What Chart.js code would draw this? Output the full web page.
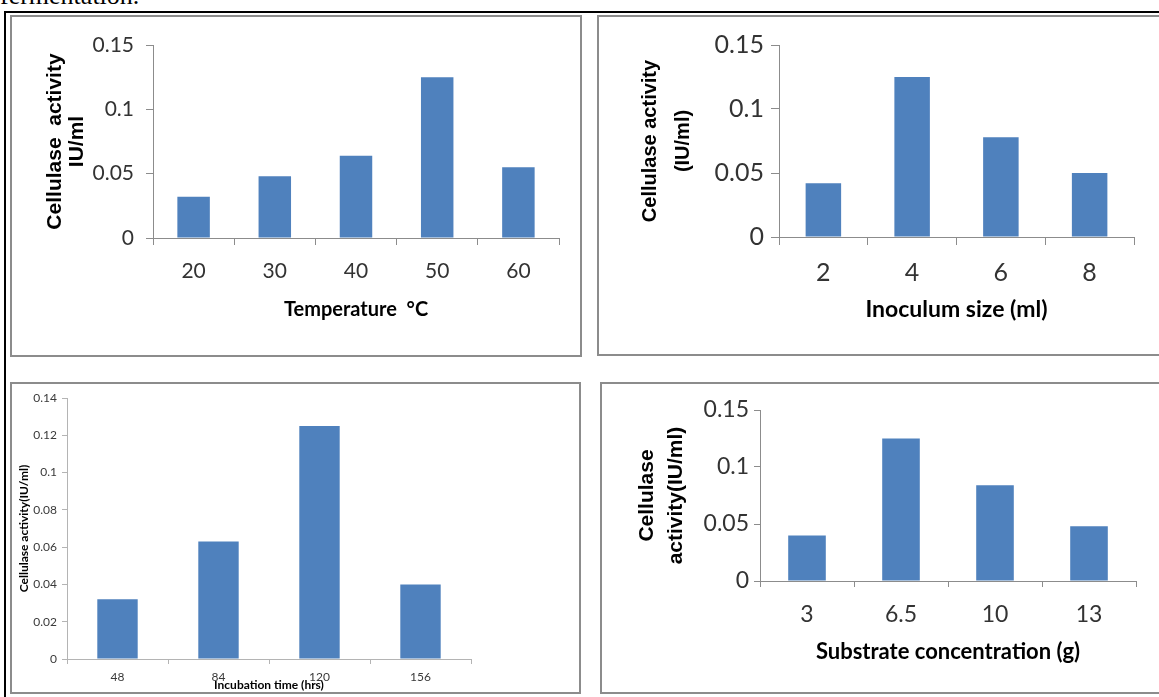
<!DOCTYPE html>
<html>
<head>
<meta charset="utf-8">
<title>Cellulase activity</title>
<script src="https://cdn.jsdelivr.net/npm/chart.js@4.4.1/dist/chart.umd.min.js"></script>
<style>
  html, body { margin: 0; padding: 0; background: #fff; }
  body { width: 1159px; height: 697px; overflow: hidden; position: relative; }
  .caption { position: absolute; left: 0; top: -17px; font: 26px/26px 'Liberation Serif', serif; color: #000; white-space: nowrap; }
  .frame { position: absolute; left: 4px; top: 11px; width: 1300px; height: 800px; border-left: 2px solid #000; border-top: 2px solid #000; }
  .panel { position: absolute; box-sizing: border-box; border: 2px solid #8c8c8c; background: #fff; }
  .panel canvas { position: absolute; left: 0; top: 0; }
</style>
</head>
<body>
<div class="caption">fermentation.</div>
<div class="frame"></div>
<div class="panel" style="left:10px;top:15px;width:572px;height:342px;"><canvas id="temp-chart" width="568" height="338"></canvas></div>
<div class="panel" style="left:597px;top:15px;width:620px;height:341px;"><canvas id="inoc-chart" width="560" height="337"></canvas></div>
<div class="panel" style="left:10px;top:382px;width:571px;height:312px;"><canvas id="incub-chart" width="567" height="308"></canvas></div>
<div class="panel" style="left:600px;top:382px;width:620px;height:312px;"><canvas id="subs-chart" width="557" height="308"></canvas></div>
<script>
// values
const tempLabels = ['20', '30', '40', '50', '60'];
const tempActivity = [0.032, 0.048, 0.064, 0.125, 0.055];
const tempTicks = [0, 0.05, 0.1, 0.15];

const inocLabels = ['2', '4', '6', '8'];
const inocActivity = [0.042, 0.125, 0.078, 0.05];
const inocTicks = [0, 0.05, 0.1, 0.15];

const incubLabels = ['48', '84', '120', '156'];
const incubActivity = [0.032, 0.063, 0.125, 0.04];
const incubTicks = [0, 0.02, 0.04, 0.06, 0.08, 0.1, 0.12, 0.14];

const subsLabels = ['3', '6.5', '10', '13'];
const subsActivity = [0.04, 0.125, 0.084, 0.048];
const subsTicks = [0, 0.05, 0.1, 0.15];

const BAR_BLUE = '#4f81bd';
const SANS = "Lato, 'Open Sans', sans-serif";
const ARIAL = "'Liberation Sans', Arial, sans-serif";

const fmtTick = (v) => String(Number(Number(v).toFixed(4)));

const makeBarChart = (canvas, p) => new Chart(canvas, {
  type: 'bar',
  data: {
    labels: p.labels,
    datasets: [{
      data: p.values,
      backgroundColor: BAR_BLUE,
      borderWidth: 0,
      categoryPercentage: 1,
      barPercentage: 0.4,
    }],
  },
  options: {
    responsive: false,
    animation: false,
    devicePixelRatio: 1,
    layout: { padding: p.padding },
    plugins: { legend: { display: false }, tooltip: { enabled: false } },
    scales: {
      x: {
        afterFit: (s) => { s.height = p.xHeight; },
        grid: { drawOnChartArea: false, tickLength: p.tick, color: p.axisColor, offset: true },
        border: { color: p.axisColor, width: 1 },
        ticks: { font: p.xTickFont, color: p.tickColor, padding: p.xTickPad, maxRotation: 0 },
        title: { display: true, text: p.xTitle, font: p.xTitleFont, color: '#000', padding: { top: 0, bottom: p.xTitlePad } },
      },
      y: {
        min: 0,
        max: p.yTicks[p.yTicks.length - 1],
        afterFit: (s) => { s.width = p.yWidth; },
        afterBuildTicks: (s) => { s.ticks = p.yTicks.map((v) => ({ value: v })); },
        grid: { drawOnChartArea: false, tickLength: p.tick, color: p.axisColor },
        border: { color: p.axisColor, width: 1 },
        ticks: { font: p.yTickFont, color: p.tickColor, padding: p.yTickPad, callback: fmtTick },
        title: { display: true, text: p.yTitle, font: p.yTitleFont, color: '#000', padding: { top: p.yTitlePad, bottom: 0 } },
      },
    },
  },
});

makeBarChart(document.getElementById('temp-chart'), {
  labels: tempLabels, values: tempActivity, yTicks: tempTicks,
  padding: { top: 28, right: 21, left: 0, bottom: 0 },
  yWidth: 141, xHeight: 117, tick: 7, axisColor: '#8c8c8c', tickColor: '#333',
  yTickFont: { family: SANS, size: 21 }, yTickPad: 12,
  xTickFont: { family: SANS, size: 21 }, xTickPad: 14,
  yTitle: ['Cellulase  activity', 'IU/ml'], yTitleFont: { family: ARIAL, size: 21, weight: 'bold', lineHeight: '22px' }, yTitlePad: 32,
  xTitle: 'Temperature  °C', xTitleFont: { family: SANS, size: 20, weight: 'bold', lineHeight: '24px' }, xTitlePad: 33,
});

makeBarChart(document.getElementById('inoc-chart'), {
  labels: inocLabels, values: inocActivity, yTicks: inocTicks,
  padding: { top: 28, right: 25, left: 0, bottom: 0 },
  yWidth: 180, xHeight: 117, tick: 8, axisColor: '#8c8c8c', tickColor: '#333',
  yTickFont: { family: SANS, size: 25 }, yTickPad: 7,
  xTickFont: { family: SANS, size: 25 }, xTickPad: 13,
  yTitle: ['Cellulase activity', '(IU/ml)'], yTitleFont: { family: ARIAL, size: 20, weight: 'bold', lineHeight: '33px' }, yTitlePad: 35,
  xTitle: 'Inoculum size (ml)', xTitleFont: { family: SANS, size: 23, weight: 'bold', lineHeight: '28px' }, xTitlePad: 30,
});

makeBarChart(document.getElementById('incub-chart'), {
  labels: incubLabels, values: incubActivity, yTicks: incubTicks,
  padding: { top: 14, right: 108, left: 0, bottom: 0 },
  yWidth: 55, xHeight: 33, tick: 5, axisColor: '#b4b4b4', tickColor: '#3a3a3a',
  yTickFont: { family: SANS, size: 12 }, yTickPad: 5,
  xTickFont: { family: SANS, size: 12 }, xTickPad: 6,
  yTitle: 'Cellulase activity(IU/ml)', yTitleFont: { family: SANS, size: 12, weight: 'bold', lineHeight: '14px' }, yTitlePad: 5,
  xTitle: 'Incubation time (hrs)', xTitleFont: { family: SANS, size: 12, weight: 'bold', lineHeight: '14px' }, xTitlePad: 0,
});

makeBarChart(document.getElementById('subs-chart'), {
  labels: subsLabels, values: subsActivity, yTicks: subsTicks,
  padding: { top: 26, right: 23, left: 0, bottom: 0 },
  yWidth: 158, xHeight: 111, tick: 6, axisColor: '#8c8c8c', tickColor: '#333',
  yTickFont: { family: SANS, size: 23 }, yTickPad: 5,
  xTickFont: { family: SANS, size: 23 }, xTickPad: 14,
  yTitle: ['Cellulase', 'activity(IU/ml)'], yTitleFont: { family: ARIAL, size: 21, weight: 'bold', lineHeight: '29px' }, yTitlePad: 31,
  xTitle: 'Substrate concentration (g)', xTitleFont: { family: SANS, size: 22, weight: 'bold', lineHeight: '26px' }, xTitlePad: 27,
});
</script>
</body>
</html>
